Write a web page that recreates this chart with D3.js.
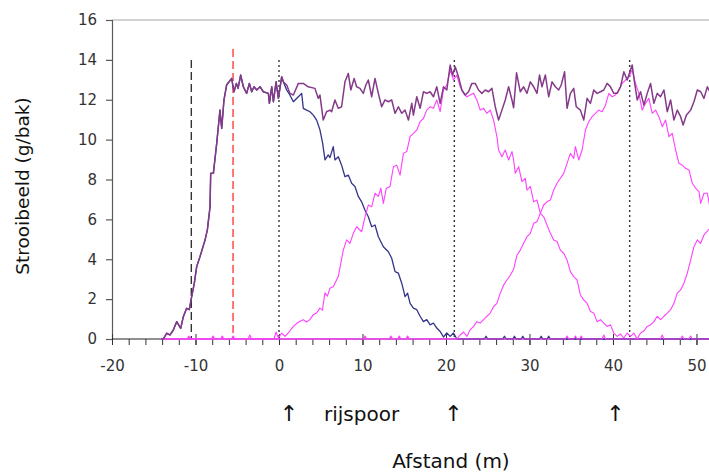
<!DOCTYPE html>
<html><head><meta charset="utf-8">
<script src="https://cdn.jsdelivr.net/npm/d3@7/dist/d3.min.js"></script>
<style>
html,body{margin:0;padding:0;background:#fff;}
svg{display:block;}
</style></head>
<body>
<svg id="chart" width="709" height="474"></svg>
<script>
// ---------- data ----------
const xTickLabels = [-20,-10,0,10,20,30,40,50];
const yTickLabels = [0,2,4,6,8,10,12,14,16];

// werkgang 1 (navy)
const w1x = [-14,-13.85,-13.45,-13.06,-12.66,-12.25,-11.77,-11.46,-11.06,-10.74,-10.46,-10.14,-9.86,-9.46,-8.86,-8.58,-8.26,-8.18,-7.86,-7.46,-7.07,-6.86,-6.59,-6.27,-5.67,-5.39,-5.1,-4.9,-4.59,-4.27,-3.87,-3.55,-3.27,-2.99,-2.67,-2.27,-1.87,-1.27,-1.15,-0.87,-0.67,-0.35,-0.07,0.32,0.52,0.92,1.3,1.72,2.32,2.72,2.91,3.31,3.71,4.11,4.51,4.91,5.23,5.51,5.9,6.1,6.5,6.7,7.1,7.5,7.9,8.3,8.7,9.1,9.5,9.9,10.3,10.7,11.1,11.5,11.9,12.5,13.1,13.5,13.9,14.3,14.7,15.1,15.4,15.7,16.1,16.5,16.9,17.3,17.7,18.1,18.5,18.9,19.3,19.7,20.1,20.5,20.9,21.3,24.6,24.8,25.0,26.8,27.0,27.2,28.0,28.2,28.4,29.0,29.2,29.4,31.2,31.4,31.6,32.1,32.3,32.5,51.6];
const w1y = [0,0,0.29,0.2,0.45,0.87,0.53,1.12,1.54,1.47,2.12,2.8,3.63,4.13,4.96,5.47,6.63,8.31,8.31,9.81,11.48,10.56,11.99,12.74,13.07,12.4,12.82,12.57,13.24,12.65,12.32,12.82,12.4,12.65,12.49,12.65,12.4,12.32,11.82,12.65,11.9,12.9,12.07,13.15,12.9,12.49,12.24,11.9,12.15,12.32,11.57,11.48,11.4,11.23,10.98,10.48,9.81,8.98,9.23,9.1,9.65,8.98,9.14,8.72,8.14,8.22,7.81,7.65,7.15,6.88,6.46,6.13,5.63,5.72,5.13,4.63,4.38,4.05,3.38,3.3,2.8,2.13,2.3,1.79,1.55,1.47,1.14,0.87,0.97,0.71,0.8,0.55,0.38,0.1,0.3,0.13,0.3,0,0,0.14,0,0,0.14,0,0,0.14,0,0,0.14,0,0,0.14,0,0,0.14,0,0];

// werkgang 2 (magenta, rijspoor 21 m)
const w2x = [-14,-11.0,-10.8,-10.6,-8.1,-7.9,-7.7,-7.0,-6.8,-6.6,-5.7,-5.5,-5.3,-3.7,-3.5,-3.3,-0.6,-0.35,-0.07,0.32,0.72,1.3,1.72,2.3,2.9,3.3,3.7,4.1,4.5,4.9,5.2,5.5,5.8,6.1,6.5,7.1,7.7,8.1,8.5,8.9,9.3,9.9,10.3,10.7,11.1,11.5,11.9,12.2,12.5,12.85,13.3,13.7,14.1,14.5,14.9,15.3,15.7,16.1,16.5,16.9,17.3,17.7,18.1,18.5,18.9,19.3,19.7,20.1,20.5,20.9,21.3,21.7,22.1,22.5,22.9,23.3,23.7,24.1,24.5,24.9,25.3,25.7,26.1,26.3,26.7,27.1,27.5,27.9,28.1,28.3,28.7,29.1,29.5,29.7,30.1,30.5,30.9,31.3,31.7,32.1,32.5,32.9,33.3,33.7,34.1,34.5,34.9,35.3,35.7,36.1,36.5,36.9,37.3,37.7,38.1,38.5,38.9,39.3,39.7,40.1,40.5,40.9,41.3,41.7,42.1,42.5,42.9,45.7,45.9,46.1,48.1,48.3,48.5,49.1,49.3,49.5,51.6];
const w2y = [0,0,0.15,0,0,0.15,0,0,0.15,0,0,0.15,0,0,0.2,0,0,0.35,0.05,0.3,0.13,0.4,0.63,0.84,0.97,0.85,0.97,1.22,1.3,1.55,1.45,2.31,2.15,2.55,2.62,3.13,4.46,4.97,4.8,5.3,5.63,5.38,6.13,6.72,6.63,7.31,7.15,7.56,6.8,7.56,7.65,8.64,8.72,8.22,9.31,9.4,10.15,10.31,10.48,10.9,11.06,11.48,11.65,11.57,11.99,11.4,12.49,12.74,13.49,12.99,13.24,12.65,12.32,12.15,12.24,12.32,11.99,11.48,11.57,11.32,11.48,10.98,10.15,9.48,9.14,9.48,8.98,9.4,8.98,8.31,8.64,7.89,8.06,7.47,7.65,6.88,6.97,6.3,6.13,5.72,5.3,4.97,4.89,4.46,4.3,3.96,3.38,3.13,2.96,2.21,1.96,1.79,1.38,1.3,0.87,0.97,0.8,0.63,0.71,0.3,0.13,0.25,0.05,0.3,0.13,0.3,0,0,0.2,0,0,0.15,0,0,0.15,0,0];

// werkgang 3 (magenta, rijspoor 42 m)
const w3x = [-14,10.1,10.3,10.5,13.2,13.4,13.6,14.2,14.4,14.6,15.2,15.4,15.6,21.3,21.7,22.1,22.5,22.9,23.3,23.7,24.1,24.5,24.9,25.3,25.7,26.1,26.5,26.9,27.3,27.7,28.1,28.5,28.9,29.3,29.7,30.1,30.5,30.9,31.3,31.7,32.1,32.5,32.9,33.3,33.7,34.1,34.5,34.9,35.3,35.5,35.9,36.3,36.7,37.1,37.5,37.9,38.3,38.7,39.1,39.5,39.9,40.3,40.7,41.1,41.5,41.9,42.3,42.7,43.1,43.5,43.9,44.3,44.7,45.1,45.5,45.9,46.3,46.7,47.1,47.5,47.9,48.3,48.7,49.1,49.5,49.9,50.3,50.5,50.9,51.3,51.6];
const w3y = [0,0,0.15,0,0,0.15,0,0,0.15,0,0,0.15,0,0,0.2,0.35,0.13,0.46,0.63,0.87,0.8,0.97,1.14,1.3,1.63,1.79,2.3,2.7,2.96,3.2,3.5,4.2,4.46,4.8,5.13,5.3,5.8,5.88,6.3,6.72,6.88,6.97,7.47,7.81,8.06,8.31,8.81,9.31,9.06,9.65,8.98,9.48,10.48,10.9,11.15,11.32,11.48,11.4,11.73,12.32,12.15,12.24,12.49,12.82,12.99,13.15,13.49,12.82,12.32,11.48,11.82,12.07,11.32,11.48,11.15,10.65,10.98,10.15,10.31,9.48,8.81,8.72,8.56,8.48,7.81,7.56,7.39,6.8,7.31,7.31,6.63];

// werkgang 4 (magenta, rijspoor 63 m)
const w4x = [-14,34.3,34.5,34.7,35.3,35.5,35.7,36.0,36.2,36.4,38.7,38.9,39.1,42.9,43.3,43.7,44.1,44.5,44.9,45.3,45.7,46.1,46.5,46.9,47.3,47.7,48.1,48.5,48.9,49.3,49.7,50.1,50.5,50.9,51.6];
const w4y = [0,0,0.15,0,0,0.15,0,0,0.15,0,0,0.2,0,0,0.3,0.4,0.63,0.71,0.87,1.14,0.97,1.14,1.3,1.47,1.79,2.3,2.46,2.8,3.3,3.96,4.63,4.97,4.8,5.22,5.55];

// totaal (purple)
const totx = [-14,-13.85,-13.45,-13.06,-12.66,-12.25,-11.77,-11.46,-11.06,-10.74,-10.46,-10.14,-9.86,-9.46,-8.86,-8.58,-8.26,-8.18,-7.86,-7.46,-7.07,-6.86,-6.59,-6.27,-5.67,-5.39,-5.1,-4.9,-4.59,-4.27,-3.87,-3.55,-3.27,-2.99,-2.67,-2.27,-1.87,-1.27,-1.15,-0.87,-0.67,-0.35,-0.07,0.32,0.52,0.92,1.3,1.72,2.32,2.91,3.5,4.3,4.7,4.9,5.3,5.7,6.1,6.3,6.7,7.1,7.5,7.9,8.3,8.6,9.0,9.3,9.7,10.1,10.4,10.7,11.1,11.5,11.9,12.3,12.7,13.1,13.5,13.9,14.3,14.7,15.1,15.5,15.9,16.1,16.5,16.9,17.3,17.7,18.1,18.5,18.9,19.3,19.7,20.1,20.5,20.8,21.1,21.5,21.9,22.3,22.7,23.1,23.5,23.9,24.3,24.7,25.1,25.5,25.9,26.3,26.7,27.1,27.5,27.9,28.1,28.45,28.9,29.3,29.7,30.1,30.5,30.9,31.2,31.5,31.9,32.3,32.7,33.1,33.5,33.8,34.2,34.5,34.9,35.3,35.6,36.1,36.5,36.9,37.3,37.7,38.1,38.5,38.9,39.3,39.7,40.1,40.5,40.9,41.3,41.7,42.1,42.3,42.6,42.9,43.3,43.7,44.1,44.5,44.9,45.3,45.7,46.1,46.5,46.9,47.3,47.7,48.1,48.4,48.8,49.3,49.7,50.1,50.5,50.9,51.3,51.6];
const toty = [0,0,0.29,0.2,0.45,0.87,0.53,1.12,1.54,1.47,2.12,2.8,3.63,4.13,4.96,5.47,6.63,8.31,8.31,9.81,11.48,10.56,11.99,12.74,13.07,12.4,12.82,12.57,13.24,12.65,12.32,12.82,12.4,12.65,12.49,12.65,12.4,12.32,11.82,12.65,11.9,12.9,12.07,13.15,12.9,12.74,12.32,12.24,12.82,12.82,12.65,12.57,12.07,12.24,10.98,11.4,11.48,11.4,11.99,11.57,11.65,12.9,13.32,12.49,13.07,12.65,12.57,12.32,12.74,12.99,12.15,13.07,12.32,11.65,11.99,11.9,11.99,11.32,11.65,11.32,11.48,10.98,11.82,11.23,12.15,11.57,12.4,12.32,12.4,12.15,12.65,11.82,12.65,12.49,13.74,13.24,13.65,13.15,12.49,12.24,12.4,12.82,12.82,12.49,12.32,12.49,12.4,12.57,11.65,10.98,11.48,11.99,12.65,11.99,11.6,13.35,12.4,12.65,12.32,12.9,12.65,12.32,13.24,12.65,13.24,12.15,12.9,12.65,12.49,12.74,13.4,11.57,12.32,12.57,11.65,11.48,10.98,12.07,11.82,12.49,12.32,12.4,12.49,12.82,12.65,12.32,12.32,12.65,13.4,12.99,13.49,13.74,12.82,11.99,12.4,11.73,12.32,12.82,11.82,12.32,12.15,12.49,11.4,11.99,10.98,11.48,11.15,10.73,11.23,11.48,11.9,12.49,12.4,12.07,12.65,12.4];

// reference lines and annotations
const refDashBlack = -10.5;
const refDashRed = -5.5;
const rijsporen = [0, 21, 42];
const arrowPos = [1.2, 20.9, 40.3];

// ---------- drawing ----------
const W = 709, H = 474;
const m = {left: 112, right: 0, top: 20, bottom: 135};
const svg = d3.select("#chart");
const x = d3.scaleLinear().domain([-20, 51.5]).range([m.left, W - m.right]);
const y = d3.scaleLinear().domain([0, 16]).range([H - m.bottom, m.top]);
const font = "'DejaVu Sans', Verdana, sans-serif";
const fmt = d => String(d);

svg.append("defs").append("clipPath").attr("id","clip")
  .append("rect").attr("x", m.left).attr("y", 0).attr("width", W - m.left).attr("height", y(0) + 1);

// top border
svg.append("line").attr("x1", x(-20)).attr("x2", W).attr("y1", y(16)).attr("y2", y(16))
  .attr("stroke", "#a6a6a6").attr("stroke-width", 1);

// y axis
const yAx = svg.append("g").attr("transform", `translate(${m.left},0)`)
  .call(d3.axisLeft(y).tickValues(yTickLabels).tickSize(6).tickPadding(9).tickFormat(fmt));
yAx.select(".domain").attr("stroke", "#5a5a5a").attr("stroke-width", 1.2);
yAx.selectAll(".tick line").attr("stroke", "#5a5a5a").attr("stroke-width", 1.2);
yAx.selectAll("text").attr("font-family", font).attr("font-size", 15).attr("fill", "#333");

// x axis: minor ticks
const minor = d3.range(-20, 52, 2);
const xAxMinor = svg.append("g").attr("transform", `translate(0,${y(0)})`)
  .call(d3.axisBottom(x).tickValues(minor).tickSize(6).tickFormat(""));
xAxMinor.select(".domain").remove();
xAxMinor.selectAll(".tick line").attr("stroke", "#333").attr("stroke-width", 1);
// major ticks with labels (crossing)
const xAx = svg.append("g").attr("transform", `translate(0,${y(0)})`)
  .call(d3.axisBottom(x).tickValues(xTickLabels).tickSize(6).tickPadding(15).tickFormat(fmt));
xAx.select(".domain").remove();
xAx.selectAll(".tick line").attr("y1", -5).attr("stroke", "#333").attr("stroke-width", 1);
xAx.selectAll("text").attr("font-family", font).attr("font-size", 15).attr("fill", "#333");
svg.append("line").attr("x1", x(-20)).attr("x2", W).attr("y1", y(0)).attr("y2", y(0))
  .attr("stroke", "#222").attr("stroke-width", 1.2);

// reference lines
svg.append("line").attr("x1", x(refDashBlack)).attr("x2", x(refDashBlack))
  .attr("y1", y(14)).attr("y2", y(0)).attr("stroke", "#333").attr("stroke-width", 1.4)
  .attr("stroke-dasharray", "8,4");
svg.append("line").attr("x1", x(refDashRed)).attr("x2", x(refDashRed))
  .attr("y1", y(14.55)).attr("y2", y(0)).attr("stroke", "#ff6666").attr("stroke-width", 1.8)
  .attr("stroke-dasharray", "8,4");
svg.selectAll(".rij").data(rijsporen).enter().append("line")
  .attr("x1", d => x(d)).attr("x2", d => x(d)).attr("y1", y(14)).attr("y2", y(0))
  .attr("stroke", "#333").attr("stroke-width", 1.4).attr("stroke-dasharray", "2,3");

// series
const line = d3.line().x(d => x(d[0])).y(d => y(d[1]));
const zipS = (xs, ys) => xs.map((v, i) => [v, ys[i]]);
const series = [
  {d: zipS(w1x, w1y), c: "#34348a", w: 1.3},
  {d: zipS(w2x, w2y), c: "#ff40ff", w: 1.1},
  {d: zipS(w3x, w3y), c: "#ff40ff", w: 1.1},
  {d: zipS(w4x, w4y), c: "#ff40ff", w: 1.1},
  {d: zipS(totx, toty), c: "#843a88", w: 1.5}
];
const g = svg.append("g").attr("clip-path", "url(#clip)");
g.selectAll("path.s").data(series).enter().append("path")
  .attr("d", s => line(s.d)).attr("fill", "none")
  .attr("stroke", s => s.c).attr("stroke-width", s => s.w)
  .attr("stroke-linejoin", "round").attr("stroke-linecap", "round");

// annotations
svg.selectAll(".arrow").data(arrowPos).enter().append("text")
  .attr("x", d => x(d)).attr("y", 421).attr("text-anchor", "middle")
  .attr("font-family", font).attr("font-size", 22).attr("fill", "#111").text("↑");
svg.append("text").attr("x", 324).attr("y", 421).attr("font-family", font)
  .attr("font-size", 20).attr("fill", "#111").text("rijspoor");
svg.append("text").attr("x", 451).attr("y", 468).attr("text-anchor", "middle")
  .attr("font-family", font).attr("font-size", 20).attr("fill", "#111").text("Afstand (m)");
svg.append("text").attr("transform", "translate(29,186) rotate(-90)").attr("text-anchor", "middle")
  .attr("font-family", font).attr("font-size", 18.5).attr("fill", "#111").text("Strooibeeld (g/bak)");
</script>
</body></html>
